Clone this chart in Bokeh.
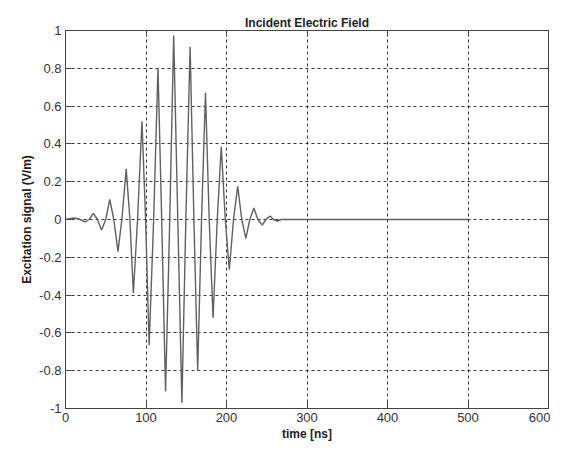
from bokeh.plotting import figure
from bokeh.models import Range1d, FixedTicker, LinearAxis
from bokeh.embed import file_html
from bokeh.resources import INLINE

# Signal: extrema and zero crossings of the pulse
time_ns = [0, 10, 16, 24.4, 29.5, 34.6, 39.7, 44.8, 50, 55, 60, 65.2, 70, 75.4, 80,
           84.3, 89.5, 95, 99.5, 103.9, 109.5, 114.9, 119.5, 124.3, 129.5, 134.4,
           139.5, 144.6, 149.5, 154.8, 159.5, 164.2, 169, 173.9, 178.5, 183.3,
           188.5, 193.5, 198.5, 203.5, 208.7, 213.9, 219, 224, 229, 234, 239,
           244.4, 249, 254, 258.5, 263, 268, 300, 400, 500]
signal = [0, 0.008, 0.004, -0.012, 0, 0.033, 0, -0.055, 0, 0.106, 0, -0.17, 0, 0.268, 0,
          -0.39, 0, 0.52, 0, -0.665, 0, 0.802, 0, -0.91, 0, 0.974,
          0, -0.97, 0, 0.914, 0, -0.8, 0, 0.67, 0, -0.52,
          0, 0.385, 0, -0.266, 0, 0.175, 0, -0.1, 0, 0.061, 0,
          -0.03, 0, 0.018, 0, -0.008, 0, 0, 0, 0]

x_ticks = [0, 100, 200, 300, 400, 500, 600]
y_ticks = [-1, -0.8, -0.6, -0.4, -0.2, 0, 0.2, 0.4, 0.6, 0.8, 1]
y_tick_labels = ["-1", "-0.8", "-0.6", "-0.4", "-0.2", "0", "0.2", "0.4", "0.6", "0.8", "1"]

FONT = "Liberation Sans"

p = figure(width=550, height=443, output_backend="svg", toolbar_location=None,
           x_range=Range1d(0, 600), y_range=Range1d(-1, 1),
           min_border_left=65, min_border_right=2, min_border_top=30, min_border_bottom=31,
           title="Incident Electric Field")

p.title.text_font = FONT
p.title.text_font_size = "12px"
p.title.text_font_style = "bold"
p.title.text_color = "#222222"
p.title.align = "center"
p.title.standoff = 2
p.title.offset = 0

p.line(time_ns, signal, line_color="#606060", line_width=1.4)

p.xaxis.ticker = FixedTicker(ticks=x_ticks)
p.yaxis.ticker = FixedTicker(ticks=y_ticks)
p.yaxis.major_label_overrides = {t: s for t, s in zip(y_ticks, y_tick_labels)}

for ax in (p.xaxis[0], p.yaxis[0]):
    ax.major_tick_in = 6
    ax.major_tick_out = 0
    ax.minor_tick_line_color = None
    ax.axis_line_color = "#444444"
    ax.major_tick_line_color = "#444444"
    ax.major_label_text_font = FONT
    ax.major_label_text_font_size = "13px"
    ax.major_label_text_color = "#333333"
    ax.axis_label_text_font = FONT
    ax.axis_label_text_font_size = "12px"
    ax.axis_label_text_font_style = "bold"
    ax.axis_label_text_color = "#222222"
    ax.major_label_standoff = 4
    ax.axis_label_standoff = 2

p.xaxis.axis_label = "time [ns]"
p.yaxis.axis_label = "Excitation signal (V/m)"

for loc, tk in (("above", x_ticks), ("right", y_ticks)):
    ax = LinearAxis(ticker=FixedTicker(ticks=tk), major_tick_in=6, major_tick_out=0,
                    minor_tick_line_color=None, axis_line_color="#444444",
                    major_tick_line_color="#444444", major_label_text_color=None,
                    major_label_text_font_size="1px", major_label_standoff=0)
    p.add_layout(ax, loc)

for g, tk in ((p.xgrid[0], x_ticks), (p.ygrid[0], y_ticks)):
    g.ticker = FixedTicker(ticks=tk)
    g.grid_line_color = "#222222"
    g.grid_line_dash = "3 3"
    g.grid_line_width = 1
    g.grid_line_alpha = 0.9

p.outline_line_color = "#444444"
p.background_fill_color = "white"
p.border_fill_color = "white"

open("out.html", "w").write(file_html(p, INLINE))
